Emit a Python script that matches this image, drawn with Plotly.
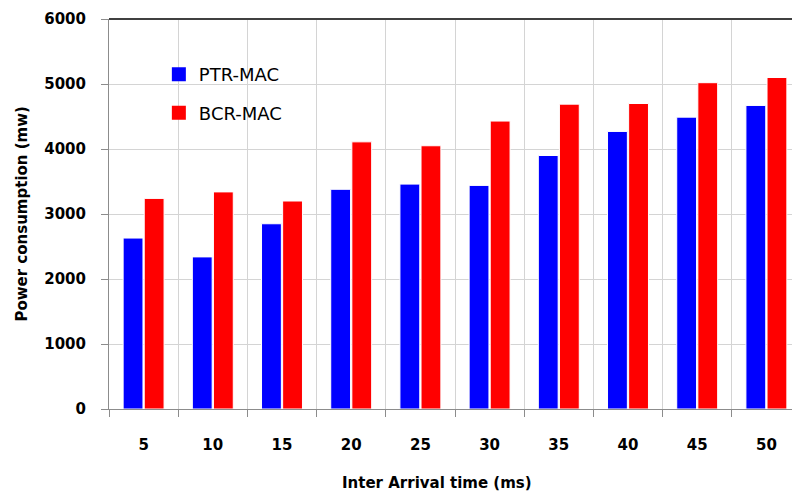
import plotly.graph_objects as go

categories = ["5", "10", "15", "20", "25", "30", "35", "40", "45", "50"]
ptr_mac = [2630, 2340, 2850, 3380, 3460, 3440, 3900, 4270, 4490, 4670]
bcr_mac = [3240, 3340, 3200, 4110, 4050, 4430, 4690, 4700, 5020, 5100]
y_ticks = [0, 1000, 2000, 3000, 4000, 5000, 6000]

xpos = list(range(len(categories)))
FONT = "DejaVu Sans"
BLUE = "#0000ff"
RED = "#ff0000"

fig = go.Figure()
fig.add_trace(go.Bar(x=xpos, y=ptr_mac, name="PTR-MAC", showlegend=False,
                     marker=dict(color=BLUE, line=dict(color="white", width=1))))
fig.add_trace(go.Bar(x=xpos, y=bcr_mac, name="BCR-MAC", showlegend=False,
                     marker=dict(color=RED, line=dict(color="white", width=1))))
# legend entries with larger square symbols
fig.add_trace(go.Scatter(x=[None], y=[None], mode="markers", name="PTR-MAC", legendgroup="a",
                         marker=dict(symbol="square", size=14, color=BLUE)))
fig.add_trace(go.Scatter(x=[None], y=[None], mode="markers", name="BCR-MAC", legendgroup="b",
                         marker=dict(symbol="square", size=14, color=RED)))
# invisible trace to host boundary gridlines axis
fig.add_trace(go.Scatter(x=[-0.5, 9.5], y=[0, 0], xaxis="x2", mode="lines",
                         line=dict(width=0), showlegend=False, hoverinfo="skip"))

xr = [-0.5, 9.37]
fig.update_layout(
    width=792, height=496,
    margin=dict(l=109, r=0, t=19, b=87),
    paper_bgcolor="white", plot_bgcolor="white",
    barmode="group", bargap=0.39, bargroupgap=0.06,
    font=dict(family=FONT, color="black"),
    xaxis=dict(range=xr, tickvals=xpos, ticktext=categories, showgrid=False,
               zeroline=False, showline=True, linecolor="#8c8c8c", linewidth=1,
               ticks="", tickfont=dict(size=15, family=FONT, weight="bold"),
               ticklabelstandoff=22),
    xaxis2=dict(range=xr, overlaying="x", side="bottom", tickvals=[i - 0.5 for i in range(11)],
                showticklabels=False, showgrid=True, gridcolor="#d4d4d4", gridwidth=1,
                ticks="outside", ticklen=7, tickcolor="#8c8c8c", zeroline=False,
                showline=False),
    yaxis=dict(range=[0, 6000], tickvals=y_ticks, showgrid=True, gridcolor="#d4d4d4",
               zeroline=False, showline=True, linecolor="#8c8c8c", linewidth=1,
               ticks="outside", ticklen=7, tickcolor="#8c8c8c",
               tickfont=dict(size=15, family=FONT, weight="bold"), ticklabelstandoff=12,
               mirror=False),
    legend=dict(x=0.073, y=0.905, xanchor="left", yanchor="top", bgcolor="rgba(0,0,0,0)",
                font=dict(size=18, family=FONT, weight=500), tracegroupgap=12, itemwidth=30),
    showlegend=True,
)
# top border line
fig.add_shape(type="line", xref="paper", yref="paper", x0=0, x1=1, y0=1, y1=1,
              line=dict(color="#404040", width=2))
fig.add_annotation(text="Inter Arrival time (ms)", xref="paper", yref="paper",
                   x=0.48, y=-0.19, xanchor="center", yanchor="middle", showarrow=False,
                   font=dict(size=15, family=FONT, weight="bold"))
fig.add_annotation(text="Power consumption (mw)", xref="paper", yref="paper",
                   x=-0.128, y=0.5, textangle=-90, xanchor="center", yanchor="middle",
                   showarrow=False, font=dict(size=15, family=FONT, weight="bold"))
fig.write_html("out.html")
